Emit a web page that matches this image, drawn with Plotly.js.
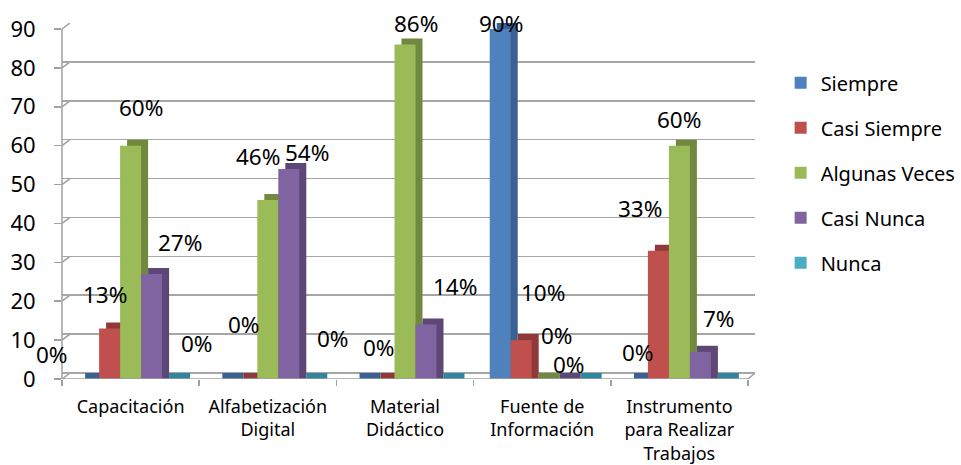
<!DOCTYPE html>
<html><head><meta charset="utf-8">
<script src="https://cdn.plot.ly/plotly-3.0.1.min.js"></script>
<style>html,body{margin:0;padding:0;background:#fff}#chart{width:961px;height:465px}</style>
</head><body><div id="chart"></div>
<script>
const categories = ['Capacitación', 'Alfabetización<br>Digital', 'Material<br>Didáctico', 'Fuente de<br>Información', 'Instrumento<br>para Realizar<br>Trabajos'];
const seriesNames = ['Siempre', 'Casi Siempre', 'Algunas Veces', 'Casi Nunca', 'Nunca'];
const siempre = [0, 0, 0, 90, 0];
const casiSiempre = [13, 0, 0, 10, 33];
const algunasVeces = [60, 46, 86, 0, 60];
const casiNunca = [27, 54, 14, 0, 7];
const nunca = [0, 0, 0, 0, 0];
const yTicks = [0, 10, 20, 30, 40, 50, 60, 70, 80, 90];

const seriesValues = [siempre, casiSiempre, algunasVeces, casiNunca, nunca];
const frontColors = ['#4f81bd', '#c0504d', '#9bbb59', '#8064a2', '#4bacc6'];
const sideColors  = ['#3a6094', '#8f3a38', '#71893f', '#5c4776', '#31859c'];
// pixel nudges of the data labels (as placed in the original), null = label not shown
const labelNudge = [
  [[-37, -25], null, null, [1, -6], [1, -27]],
  [[-5, -34], [-3, -55], [-5, -32], [22, -48], [-18, -42]],
  [[10, -38], [-10, -44], [11, -21], [15, -44], [0, -26]],
  [[28, -32], [18, -17], [29, -38], [6, -15], [19, -33]],
  [[24, -36], [23, -41], null, null, null]
];

const FONT = 'Noto Sans, Open Sans, sans-serif';
const DX = 7, DY = 6;               // 3D depth in px
const plotW = 961 - 62 - 206;
const xShiftC = DX / 137.2;
const pxPerUnit = 3.889;
const yShiftU = DY / pxPerUnit;
const barW = 21;

const traces = [];
// depth (side + top faces): same bars on the back axes, drawn from the front floor edge
seriesValues.forEach((vals, i) => {
  traces.push({
    type: 'bar', x: categories, y: vals.map(v => v + yShiftU), base: -yShiftU,
    xaxis: 'x', yaxis: 'y', showlegend: false, hoverinfo: 'skip',
    marker: {color: sideColors[i], line: {width: 0}}
  });
});
seriesValues.forEach((vals, i) => {
  traces.push({
    type: 'bar', x: categories, y: vals, name: seriesNames[i], legendgroup: seriesNames[i],
    xaxis: 'x2', yaxis: 'y2',
    marker: {color: frontColors[i], line: {width: 0}}
  });
});

const annotations = [];
seriesValues.forEach((vals, i) => {
  vals.forEach((v, g) => {
    const n = labelNudge[i][g];
    if (!n) return;
    annotations.push({
      xref: 'x2', yref: 'y2', x: categories[g], y: v, showarrow: false,
      xshift: (i - 2) * barW + n[0], yshift: -n[1],
      text: v + '%', font: {family: FONT, size: 22.5, color: '#000'}
    });
  });
});

const lineC = '#a0a0a0';
const shapes = [
  {type: 'rect', xref: 'paper', yref: 'paper', x0: -0.002, x1: 8 / plotW, y0: 0, y1: 1.01,
   fillcolor: '#fff', line: {width: 0}, layer: 'between'}
];
yTicks.forEach(t => {
  shapes.push({type: 'line', xref: 'paper', yref: 'y', x0: 0, x1: 8 / plotW, y0: t - yShiftU, y1: t,
    line: {color: lineC, width: 1.5}, layer: 'between'});
});
shapes.push({type: 'line', xref: 'paper', yref: 'y2', x0: 0, x1: 0, y0: 0, y1: 90, line: {color: lineC, width: 1.5}});
shapes.push({type: 'line', xref: 'x2', yref: 'y2', x0: -0.5, x1: 4.5, y0: 0, y1: 0, line: {color: lineC, width: 1.5}});
shapes.push({type: 'line', xref: 'x', yref: 'y', x0: 4.5 - xShiftC, x1: 4.5, y0: -yShiftU, y1: 0, line: {color: lineC, width: 1.5}});

const layout = {
  width: 961, height: 465,
  margin: {l: 62, r: 206, t: 23, b: 86, autoexpand: false},
  paper_bgcolor: '#fff', plot_bgcolor: 'rgba(0,0,0,0)',
  barmode: 'group', bargap: 0.235, bargroupgap: 0,
  showlegend: true,
  font: {family: FONT, color: '#000'},
  xaxis: {type: 'category', range: [-0.5 - xShiftC, 4.5], showticklabels: false, showgrid: false,
    zeroline: false, showline: false, ticks: '', fixedrange: true},
  yaxis: {range: [-yShiftU, 90], tickvals: yTicks, showticklabels: false, showgrid: true,
    gridcolor: '#a6a6a6', gridwidth: 1.5, zeroline: false, showline: false, ticks: '', fixedrange: true},
  xaxis2: {type: 'category', overlaying: 'x', side: 'bottom', range: [-0.5, 4.5 + xShiftC],
    tickson: 'boundaries', ticks: 'outside', ticklen: 6, tickcolor: lineC, tickwidth: 1.5,
    showgrid: false, zeroline: false, showline: false, ticklabelstandoff: 15,
    tickfont: {family: FONT, size: 18, color: '#000'}, fixedrange: true},
  yaxis2: {overlaying: 'y', side: 'left', range: [0, 90 + yShiftU], tickvals: yTicks,
    ticks: 'outside', ticklen: 7, tickcolor: lineC, tickwidth: 1.5, showgrid: false,
    zeroline: false, showline: false, ticklabelstandoff: 14,
    tickfont: {family: FONT, size: 22, color: '#000'}, fixedrange: true},
  legend: {x: 1.037, xanchor: 'left', y: 0.887, yanchor: 'top', font: {family: FONT, size: 20, color: '#000'},
    tracegroupgap: 16, bgcolor: 'rgba(0,0,0,0)', traceorder: 'grouped'},
  annotations: annotations,
  shapes: shapes
};

Plotly.newPlot('chart', traces, layout, {displayModeBar: false, staticPlot: true});
</script>
</body></html>
